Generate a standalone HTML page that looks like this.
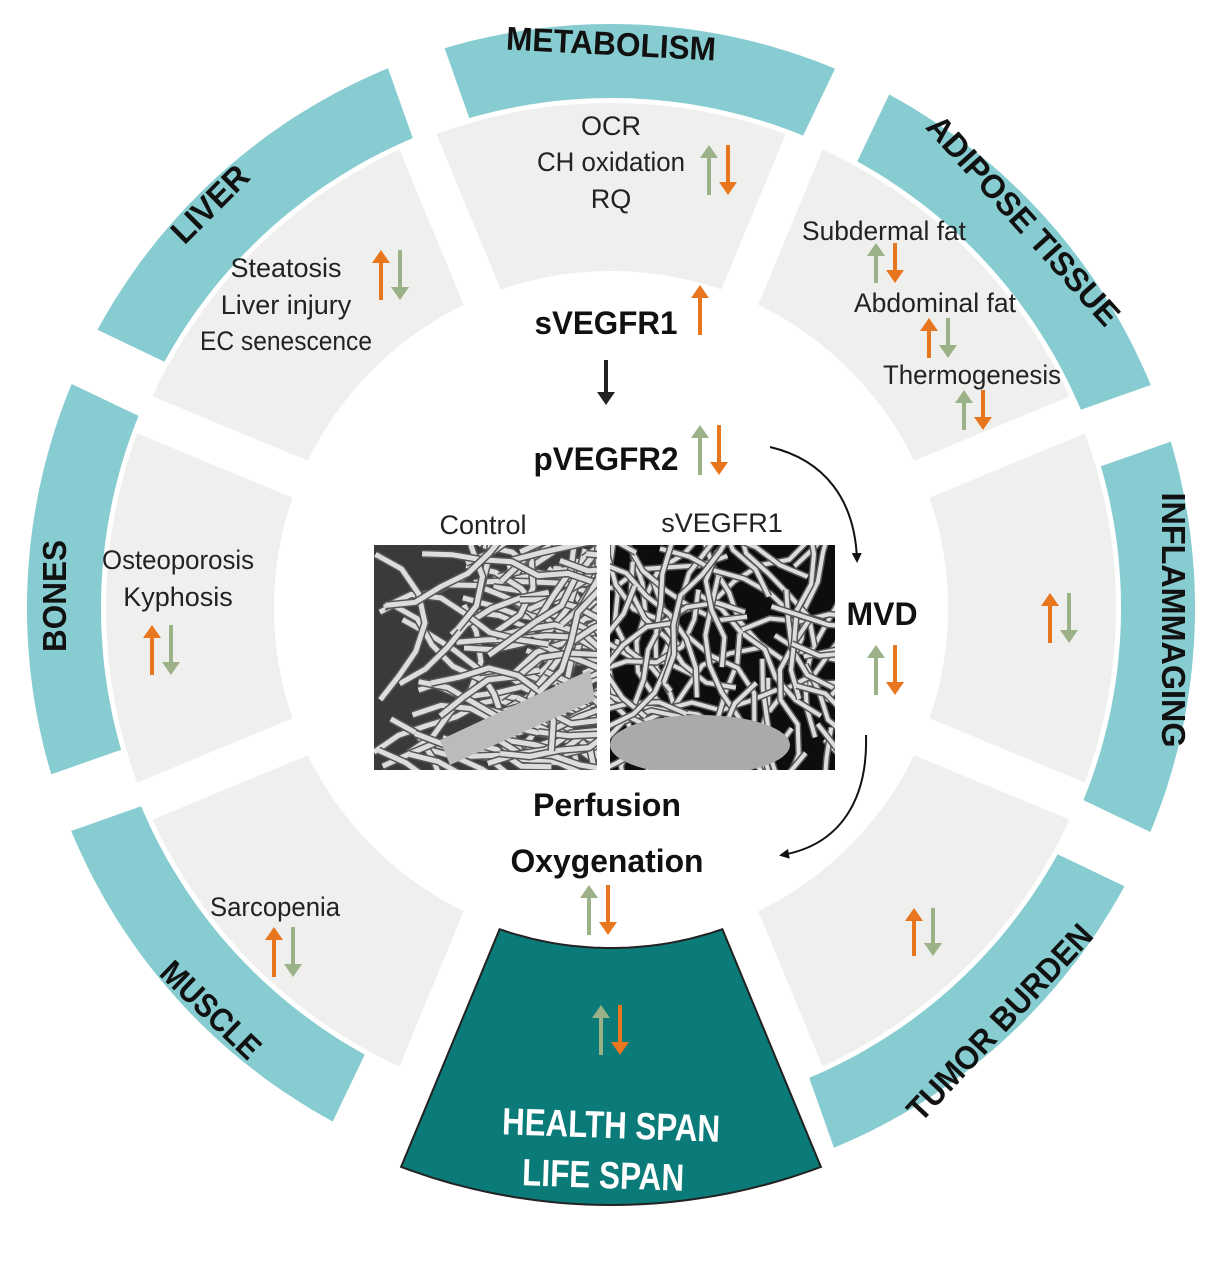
<!DOCTYPE html>
<html><head><meta charset="utf-8"><style>
html,body{margin:0;padding:0;background:#fff;}
svg{display:block;}
.t{font-family:"Liberation Sans Narrow","Liberation Sans",sans-serif;font-size:27px;fill:#222;}
.b{font-family:"Liberation Sans Narrow","Liberation Sans",sans-serif;font-weight:bold;font-size:32px;fill:#111;}
.l{font-family:"Liberation Sans Narrow","Liberation Sans",sans-serif;font-weight:bold;font-size:33px;fill:#111;}
</style></head><body>
<svg id="s" width="1222" height="1280" viewBox="0 0 1222 1280" xmlns="http://www.w3.org/2000/svg">
<defs>
<marker id="ah" markerWidth="10" markerHeight="10" refX="7" refY="5" orient="auto" markerUnits="userSpaceOnUse"><path d="M0,0 L10,5 L0,10 z" fill="#111"/></marker>
<clipPath id="c1"><rect x="374" y="545" width="223" height="225"/></clipPath>
<clipPath id="c2"><rect x="610" y="545" width="225" height="225"/></clipPath>
</defs>
<g id="sec"></g>
<g id="img"></g>
<g id="arr"></g>
<text class="l" x="611" y="55" text-anchor="middle" textLength="210" lengthAdjust="spacingAndGlyphs" transform="rotate(3 611 45)">METABOLISM</text>
<text class="l" transform="translate(1015,228) rotate(48)" text-anchor="middle" textLength="270" lengthAdjust="spacingAndGlyphs">ADIPOSE TISSUE</text>
<text class="l" transform="translate(1162,620) rotate(90)" text-anchor="middle" textLength="255" lengthAdjust="spacingAndGlyphs">INFLAMMAGING</text>
<text class="l" transform="translate(1008,1030) rotate(-47)" text-anchor="middle" textLength="255" lengthAdjust="spacingAndGlyphs">TUMOR BURDEN</text>
<text class="l" transform="translate(203,1018) rotate(44)" text-anchor="middle" textLength="125" lengthAdjust="spacingAndGlyphs">MUSCLE</text>
<text class="l" transform="translate(66,596) rotate(-90)" text-anchor="middle" textLength="112" lengthAdjust="spacingAndGlyphs">BONES</text>
<text class="l" transform="translate(218,212) rotate(-45)" text-anchor="middle" textLength="95" lengthAdjust="spacingAndGlyphs">LIVER</text>
<text x="611" y="1138" text-anchor="middle" font-family="Liberation Sans Narrow,Liberation Sans,sans-serif" font-weight="bold" font-size="38" fill="#fff" textLength="218" lengthAdjust="spacingAndGlyphs" transform="rotate(2 611 1130)">HEALTH SPAN</text>
<text x="603" y="1188" text-anchor="middle" font-family="Liberation Sans Narrow,Liberation Sans,sans-serif" font-weight="bold" font-size="38" fill="#fff" textLength="162" lengthAdjust="spacingAndGlyphs" transform="rotate(2 603 1180)">LIFE SPAN</text>
<text class="t" x="611" y="135" text-anchor="middle">OCR</text>
<text class="t" x="611" y="171" text-anchor="middle" textLength="148" lengthAdjust="spacingAndGlyphs">CH oxidation</text>
<text class="t" x="611" y="208" text-anchor="middle">RQ</text>
<text class="t" x="286" y="277" text-anchor="middle">Steatosis</text>
<text class="t" x="286" y="314" text-anchor="middle">Liver injury</text>
<text class="t" x="286" y="350" text-anchor="middle" textLength="172" lengthAdjust="spacingAndGlyphs">EC senescence</text>
<text class="t" x="884" y="240" text-anchor="middle" textLength="164" lengthAdjust="spacingAndGlyphs">Subdermal fat</text>
<text class="t" x="935" y="312" text-anchor="middle" textLength="162" lengthAdjust="spacingAndGlyphs">Abdominal fat</text>
<text class="t" x="972" y="384" text-anchor="middle" textLength="178" lengthAdjust="spacingAndGlyphs">Thermogenesis</text>
<text class="t" x="178" y="569" text-anchor="middle" textLength="152" lengthAdjust="spacingAndGlyphs">Osteoporosis</text>
<text class="t" x="178" y="606" text-anchor="middle">Kyphosis</text>
<text class="t" x="275" y="916" text-anchor="middle" textLength="130" lengthAdjust="spacingAndGlyphs">Sarcopenia</text>
<text class="t" x="483" y="534" text-anchor="middle">Control</text>
<text class="t" x="722" y="532" text-anchor="middle">sVEGFR1</text>
<text class="b" x="606" y="334" text-anchor="middle" textLength="143" lengthAdjust="spacingAndGlyphs">sVEGFR1</text>
<text class="b" x="606" y="470" text-anchor="middle" textLength="145" lengthAdjust="spacingAndGlyphs">pVEGFR2</text>
<text class="b" x="882" y="625" text-anchor="middle">MVD</text>
<text class="b" x="607" y="816" text-anchor="middle" textLength="148" lengthAdjust="spacingAndGlyphs">Perfusion</text>
<text class="b" x="607" y="872" text-anchor="middle" textLength="193" lengthAdjust="spacingAndGlyphs">Oxygenation</text>
<path d="M770,447 C825,460 855,500 857,560" fill="none" stroke="#111" stroke-width="2" marker-end="url(#ah)"/>
<path d="M866,735 C868,800 840,845 782,855" fill="none" stroke="#111" stroke-width="2" marker-end="url(#ah)"/>
</svg>
<script>
var NS="http://www.w3.org/2000/svg",cx=611,cy=608;
function el(p,n,a){var e=document.createElementNS(NS,n);for(var k in a)e.setAttribute(k,a[k]);p.appendChild(e);return e;}
function sector(th,r1,r2,gap,fill,stroke){
 var pts=[],N=40,t=th*Math.PI/180;
 function ha(r){return Math.PI/8-Math.asin(gap/r);}
 var h2=ha(r2),h1=ha(r1);
 for(var i=0;i<=N;i++){var a=t-h2+2*h2*i/N;pts.push([cx+r2*Math.cos(a),cy+r2*Math.sin(a)]);}
 for(var i=0;i<=N;i++){var a=t+h1-2*h1*i/N;pts.push([cx+r1*Math.cos(a),cy+r1*Math.sin(a)]);}
 var d="M"+pts.map(function(p){return p[0].toFixed(1)+","+p[1].toFixed(1)}).join(" L")+" Z";
 var o={d:d,fill:fill};if(stroke){o.stroke=stroke;o["stroke-width"]=2;}
 el(document.getElementById("sec"),"path",o);
}
[-90,-45,0,45,135,180,225].forEach(function(a){
 sector(a+3,510,584,30,"#86ccd0");
 sector(a,337,505,20,"#efefee");
});
sector(90,340,597,20,"#0b7b79","#222");
var G=document.getElementById("img"),seed=7;
function rnd(){seed=(seed*16807)%2147483647;return seed/2147483647;}
function img(x,y,w,h,bg,clip,n,horiz,sw){
 var g=el(G,"g",{"clip-path":"url(#"+clip+")"});
 el(g,"rect",{x:x,y:y,width:w,height:h,fill:bg});
 for(var i=0;i<n;i++){
  var px=x+rnd()*w,py=y+rnd()*h,d="M"+px+","+py;
  var ang=horiz?(-0.4+rnd()*0.5):rnd()*6.28;
  for(var j=0;j<6;j++){ang+=(rnd()-0.5)*1.2;px+=Math.cos(ang)*30;py+=Math.sin(ang)*30;d+=" L"+px.toFixed(1)+","+py.toFixed(1);}
  el(g,"path",{d:d,fill:"none",stroke:"#555","stroke-width":sw+3,"stroke-linejoin":"round"});
  el(g,"path",{d:d,fill:"none",stroke:"#ddd","stroke-width":sw,"stroke-linejoin":"round"});
 }
}
img(374,545,223,225,"#3a3a3a","c1",110,true,5);
img(610,545,225,225,"#0d0d0d","c2",70,false,4);
el(G,"ellipse",{cx:700,cy:745,rx:90,ry:30,fill:"#aaa","clip-path":"url(#c2)"});
el(G,"path",{d:"M440,740 L590,670 L595,700 L450,765 Z",fill:"#bbb","clip-path":"url(#c1)"});
var A=document.getElementById("arr"),GR="#9bb187",OR="#e8761f";
function up(x,y,h,c){el(A,"line",{x1:x,y1:y+10,x2:x,y2:y+h,stroke:c,"stroke-width":4});el(A,"path",{d:"M"+(x-9)+","+(y+13)+" L"+x+","+y+" L"+(x+9)+","+(y+13)+" Z",fill:c});}
function dn(x,y,h,c){el(A,"line",{x1:x,y1:y,x2:x,y2:y+h-10,stroke:c,"stroke-width":4});el(A,"path",{d:"M"+(x-9)+","+(y+h-13)+" L"+x+","+(y+h)+" L"+(x+9)+","+(y+h-13)+" Z",fill:c});}
function pair(x,y,h,t){if(t=="gd"){up(x,y,h,GR);dn(x+19,y,h,OR);}else{up(x,y,h,OR);dn(x+19,y,h,GR);}}
pair(709,145,50,"gd");
up(700,285,50,OR);
dn(606,360,45,"#222");
pair(700,425,50,"gd");
pair(381,250,50,"og");
pair(876,243,40,"gd");
pair(929,318,40,"og");
pair(964,390,40,"gd");
pair(152,625,50,"og");
pair(1050,593,50,"og");
pair(876,645,50,"gd");
pair(589,885,50,"gd");
pair(914,908,48,"og");
pair(601,1005,50,"gd");
pair(274,927,50,"og");
</script>
</body></html>
